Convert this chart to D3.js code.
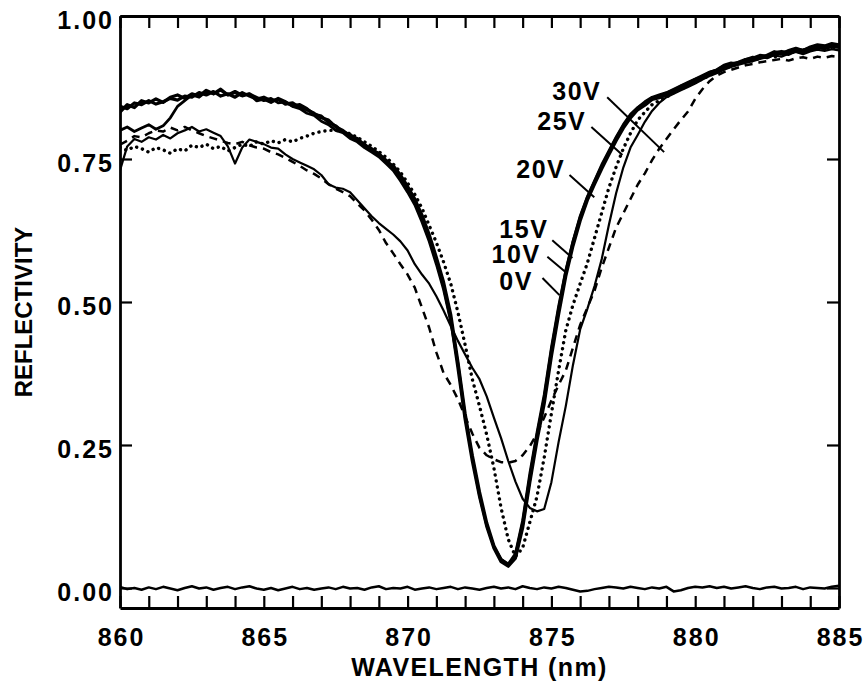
<!doctype html>
<html lang="en">
<head>
<meta charset="utf-8" />
<title>Reflectivity vs wavelength</title>
<script src="https://d3js.org/d3.v7.min.js"></script>
<style>
  body { margin: 0; padding: 0; background: #fff; }
  svg { display: block; }
  text { font-family: "Liberation Sans", Arial, sans-serif; font-weight: bold; fill: #000; }
</style>
</head>
<body>
<script>
// wavelength grid, 860..885 nm every 0.25 nm
const wavelength = d3.range(0, 101).map(i => 860 + i * 0.25);

// reflectivity, one value per grid point (rows of 2.5 nm)
const r0V = [
  0.842, 0.838, 0.848, 0.845, 0.852, 0.846, 0.850, 0.856, 0.853, 0.860,
  0.858, 0.866, 0.862, 0.868, 0.860, 0.864, 0.858, 0.866, 0.860, 0.855,
  0.858, 0.852, 0.854, 0.846, 0.848, 0.840, 0.836, 0.830, 0.822, 0.818,
  0.806, 0.800, 0.790, 0.786, 0.774, 0.768, 0.758, 0.748, 0.735, 0.718,
  0.698, 0.675, 0.646, 0.612, 0.572, 0.528, 0.470, 0.385, 0.295, 0.222,
  0.160, 0.108, 0.070, 0.046, 0.038, 0.052, 0.105, 0.185, 0.258, 0.322,
  0.405, 0.478, 0.545, 0.598, 0.642, 0.678, 0.706, 0.733, 0.758, 0.782,
  0.804, 0.822, 0.836, 0.844, 0.854, 0.857, 0.862, 0.868, 0.874, 0.879,
  0.886, 0.891, 0.898, 0.903, 0.910, 0.913, 0.917, 0.921, 0.923, 0.929,
  0.927, 0.933, 0.935, 0.933, 0.939, 0.937, 0.941, 0.945, 0.943, 0.947,
  0.945
];
const r10V = [
  0.832, 0.845, 0.840, 0.852, 0.848, 0.855, 0.849, 0.858, 0.862, 0.856,
  0.864, 0.860, 0.870, 0.864, 0.872, 0.862, 0.868, 0.861, 0.864, 0.852,
  0.855, 0.849, 0.856, 0.850, 0.843, 0.845, 0.838, 0.828, 0.825, 0.814,
  0.808, 0.797, 0.793, 0.782, 0.776, 0.765, 0.760, 0.745, 0.738, 0.722,
  0.702, 0.680, 0.652, 0.618, 0.578, 0.535, 0.478, 0.395, 0.305, 0.232,
  0.168, 0.114, 0.074, 0.050, 0.040, 0.056, 0.112, 0.192, 0.266, 0.330,
  0.414, 0.486, 0.552, 0.604, 0.647, 0.682, 0.710, 0.737, 0.762, 0.786,
  0.807, 0.826, 0.839, 0.848, 0.856, 0.860, 0.865, 0.870, 0.877, 0.882,
  0.889, 0.894, 0.901, 0.905, 0.913, 0.916, 0.919, 0.924, 0.926, 0.931,
  0.930, 0.936, 0.938, 0.936, 0.942, 0.940, 0.944, 0.948, 0.946, 0.950,
  0.948
];
const r15V = [
  0.800, 0.806, 0.798, 0.804, 0.810, 0.802, 0.808, 0.822, 0.842, 0.852,
  0.862, 0.858, 0.868, 0.864, 0.870, 0.862, 0.866, 0.860, 0.864, 0.858,
  0.852, 0.856, 0.848, 0.850, 0.842, 0.838, 0.830, 0.826, 0.816, 0.810,
  0.800, 0.796, 0.786, 0.780, 0.770, 0.762, 0.754, 0.742, 0.730, 0.712,
  0.692, 0.670, 0.640, 0.606, 0.566, 0.522, 0.466, 0.392, 0.300, 0.228,
  0.162, 0.110, 0.072, 0.050, 0.042, 0.060, 0.118, 0.200, 0.272, 0.338,
  0.420, 0.492, 0.555, 0.606, 0.650, 0.684, 0.712, 0.740, 0.764, 0.788,
  0.810, 0.828, 0.840, 0.850, 0.858, 0.862, 0.866, 0.872, 0.878, 0.884,
  0.890, 0.896, 0.902, 0.906, 0.914, 0.918, 0.916, 0.924, 0.928, 0.926,
  0.932, 0.938, 0.934, 0.940, 0.944, 0.940, 0.946, 0.950, 0.948, 0.952,
  0.950
];
const r20V = [
  0.770, 0.765, 0.772, 0.768, 0.762, 0.770, 0.766, 0.760, 0.768, 0.764,
  0.774, 0.770, 0.776, 0.768, 0.772, 0.764, 0.770, 0.776, 0.772, 0.780,
  0.776, 0.782, 0.778, 0.784, 0.780, 0.786, 0.790, 0.795, 0.798, 0.800,
  0.800, 0.798, 0.794, 0.788, 0.780, 0.772, 0.763, 0.753, 0.741, 0.727,
  0.708, 0.688, 0.664, 0.634, 0.604, 0.570, 0.532, 0.482, 0.425, 0.365,
  0.318, 0.268, 0.210, 0.140, 0.085, 0.055, 0.070, 0.115, 0.160, 0.228,
  0.305, 0.380, 0.450, 0.495, 0.532, 0.568, 0.612, 0.656, 0.700, 0.736,
  0.768, 0.795, 0.818, 0.832, 0.845, 0.852, 0.858, 0.866, 0.872, 0.878,
  0.884, 0.890, 0.896, 0.902, 0.908, 0.912, 0.916, 0.920, 0.922, 0.926,
  0.930, 0.928, 0.934, 0.938, 0.936, 0.940, 0.944, 0.942, 0.946, 0.944,
  0.948
];
const r25V = [
  0.730, 0.772, 0.785, 0.780, 0.788, 0.784, 0.792, 0.786, 0.795, 0.800,
  0.806, 0.798, 0.802, 0.796, 0.790, 0.772, 0.742, 0.770, 0.784, 0.780,
  0.776, 0.770, 0.768, 0.758, 0.750, 0.744, 0.738, 0.732, 0.722, 0.706,
  0.700, 0.698, 0.692, 0.678, 0.664, 0.650, 0.638, 0.628, 0.618, 0.606,
  0.590, 0.566, 0.548, 0.532, 0.510, 0.485, 0.458, 0.432, 0.408, 0.385,
  0.365, 0.335, 0.298, 0.262, 0.222, 0.186, 0.156, 0.140, 0.134, 0.138,
  0.185, 0.255, 0.318, 0.390, 0.452, 0.488, 0.528, 0.575, 0.635, 0.690,
  0.735, 0.770, 0.792, 0.815, 0.834, 0.848, 0.858, 0.864, 0.870, 0.876,
  0.882, 0.889, 0.895, 0.900, 0.906, 0.911, 0.915, 0.918, 0.921, 0.925,
  0.928, 0.931, 0.929, 0.934, 0.937, 0.933, 0.938, 0.941, 0.939, 0.942,
  0.940
];
const r30V = [
  0.775, 0.782, 0.790, 0.788, 0.795, 0.800, 0.798, 0.805, 0.800, 0.806,
  0.800, 0.795, 0.790, 0.786, 0.782, 0.778, 0.776, 0.780, 0.774, 0.770,
  0.768, 0.762, 0.758, 0.752, 0.745, 0.738, 0.730, 0.724, 0.716, 0.706,
  0.698, 0.692, 0.685, 0.672, 0.660, 0.644, 0.626, 0.603, 0.585, 0.566,
  0.548, 0.525, 0.490, 0.455, 0.412, 0.376, 0.355, 0.330, 0.300, 0.270,
  0.245, 0.232, 0.225, 0.220, 0.219, 0.222, 0.232, 0.248, 0.270, 0.298,
  0.328, 0.355, 0.380, 0.420, 0.460, 0.490, 0.520, 0.560, 0.595, 0.630,
  0.655, 0.680, 0.705, 0.725, 0.748, 0.768, 0.785, 0.802, 0.818, 0.833,
  0.855, 0.872, 0.886, 0.896, 0.902, 0.906, 0.910, 0.914, 0.916, 0.919,
  0.921, 0.923, 0.925, 0.922, 0.926, 0.928, 0.925, 0.929, 0.927, 0.930,
  0.928
];
// dark level trace along the bottom
const rDark = [
  0.002, -0.002, 0.000, -0.003, 0.001, -0.002, 0.002, -0.001, -0.004, 0.000,
  0.003, -0.001, 0.001, -0.003, 0.000, 0.002, -0.002, 0.001, 0.003, -0.001,
  -0.003, 0.000, -0.004, -0.001, 0.002, -0.002, 0.000, -0.003, -0.001, 0.001,
  -0.002, 0.002, -0.001, 0.000, -0.003, 0.001, 0.003, -0.002, 0.000, -0.001,
  0.002, -0.003, -0.001, 0.001, -0.002, 0.000, 0.002, -0.002, 0.001, -0.001,
  -0.003, 0.000, 0.002, -0.001, 0.001, -0.002, 0.003, 0.000, -0.002, 0.001,
  -0.001, 0.002, 0.000, -0.003, -0.006, -0.005, -0.002, 0.000, 0.002, 0.001,
  -0.001, 0.002, 0.000, -0.002, 0.001, -0.001, 0.002, -0.006, -0.004, 0.000,
  0.002, 0.001, 0.003, 0.000, 0.002, -0.001, 0.001, 0.003, 0.000, -0.002,
  0.001, 0.002, -0.001, 0.000, 0.002, -0.002, 0.001, 0.000, -0.001, 0.002,
  0.004
];

// tick values
const xTicks = d3.range(860, 886, 1);
const yTicks = [0, 0.25, 0.5, 0.75, 1.0];

// curve labels: text anchor and leader line, in data units
const labelNames = ["30V", "25V", "20V", "15V", "10V", "0V"];
const labelAt = [[875.03, 0.853], [874.51, 0.800], [873.78, 0.717], [873.19, 0.612], [872.92, 0.568], [873.19, 0.521]];
const leaderFrom = [[876.94, 0.858], [876.39, 0.806], [875.63, 0.722], [875.03, 0.608], [874.86, 0.579], [874.69, 0.542]];
const leaderTo = [[878.92, 0.762], [877.47, 0.757], [876.49, 0.683], [875.73, 0.577], [875.52, 0.551], [875.28, 0.512]];

const series = [
  { name: "dark", values: rDark, width: 2.5, dash: null },
  { name: "30V", values: r30V, width: 2.5, dash: "8,6" },
  { name: "25V", values: r25V, width: 2.2, dash: null },
  { name: "20V", values: r20V, width: 3.4, dash: "0.1,6" },
  { name: "15V", values: r15V, width: 2.8, dash: null },
  { name: "10V", values: r10V, width: 3.2, dash: null },
  { name: "0V", values: r0V, width: 3.2, dash: null }
];

const width = 864, height = 684;
const svg = d3.select("body").append("svg")
  .attr("width", width)
  .attr("height", height);

const x = d3.scaleLinear().domain([860, 885]).range([120, 839]);
const y = d3.scaleLinear().domain([-0.035, 1.0]).range([608, 16]);

svg.append("clipPath").attr("id", "plot")
  .append("rect")
  .attr("x", x(860)).attr("y", y(1.0))
  .attr("width", x(885) - x(860)).attr("height", y(-0.035) - y(1.0));

const line = d3.line()
  .x((d, i) => x(wavelength[i]))
  .y(d => y(d));

svg.append("g").attr("clip-path", "url(#plot)")
  .selectAll("path")
  .data(series)
  .join("path")
  .attr("d", d => line(d.values))
  .attr("fill", "none")
  .attr("stroke", "#000")
  .attr("stroke-width", d => d.width)
  .attr("stroke-dasharray", d => d.dash)
  .attr("stroke-linecap", d => d.dash && d.dash.startsWith("0.1") ? "round" : "butt")
  .attr("stroke-linejoin", "round");

// axes, ticks pointing inward
const fmtX = d => (d % 5 === 0 ? d : "");
const axBottom = svg.append("g").attr("transform", `translate(0,${y(-0.035)})`)
  .call(d3.axisBottom(x).tickValues(xTicks).tickSize(-12).tickSizeOuter(0).tickPadding(20).tickFormat(fmtX));
const axTop = svg.append("g").attr("transform", `translate(0,${y(1.0)})`)
  .call(d3.axisTop(x).tickValues(xTicks).tickSize(-12).tickSizeOuter(0).tickFormat(""));
const axLeft = svg.append("g").attr("transform", `translate(${x(860)},0)`)
  .call(d3.axisLeft(y).tickValues(yTicks).tickSize(-12).tickSizeOuter(0).tickPadding(8).tickFormat(d3.format(".2f")));
const axRight = svg.append("g").attr("transform", `translate(${x(885)},0)`)
  .call(d3.axisRight(y).tickValues(yTicks).tickSize(-12).tickSizeOuter(0).tickFormat(""));

[axBottom, axTop, axLeft, axRight].forEach(g => {
  g.select(".domain").attr("stroke", "#000").attr("stroke-width", 2.8);
  g.selectAll(".tick line").attr("stroke", "#000").attr("stroke-width", 2.2);
  g.selectAll("text")
    .attr("fill", "#000")
    .style("font-family", '"Liberation Sans", Arial, sans-serif')
    .style("font-weight", "bold")
    .style("font-size", "25px")
    .style("letter-spacing", "2px");
});
axBottom.selectAll("text").attr("dy", "0.71em").attr("dx", "1px");
axLeft.selectAll("text").attr("dy", "0.5em").attr("dx", "2px");

// axis titles
svg.append("text")
  .attr("x", (x(860) + x(885)) / 2)
  .attr("y", 676)
  .attr("text-anchor", "middle")
  .style("font-size", "25px")
  .style("letter-spacing", "1.4px")
  .text("WAVELENGTH (nm)");

svg.append("text")
  .attr("transform", `translate(32,${(y(1.0) + y(-0.035)) / 2}) rotate(-90)`)
  .attr("text-anchor", "middle")
  .style("font-size", "24px")
  .text("REFLECTIVITY");

// curve labels and leader lines
const ann = svg.append("g");
ann.selectAll("line")
  .data(labelNames)
  .join("line")
  .attr("x1", (d, i) => x(leaderFrom[i][0]))
  .attr("y1", (d, i) => y(leaderFrom[i][1]))
  .attr("x2", (d, i) => x(leaderTo[i][0]))
  .attr("y2", (d, i) => y(leaderTo[i][1]))
  .attr("stroke", "#000")
  .attr("stroke-width", 2);

ann.selectAll("text")
  .data(labelNames)
  .join("text")
  .attr("x", (d, i) => x(labelAt[i][0]))
  .attr("y", (d, i) => y(labelAt[i][1]))
  .style("font-size", "25px")
  .style("letter-spacing", "1.5px")
  .text(d => d);
</script>
</body>
</html>
